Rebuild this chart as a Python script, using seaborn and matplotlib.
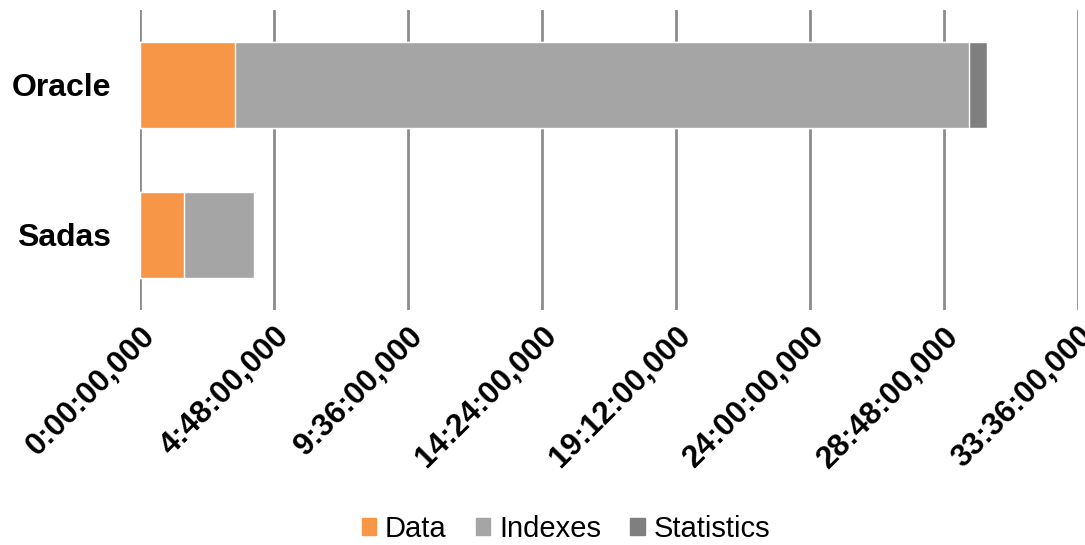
import pandas as pd
import seaborn as sns
import numpy as np
import matplotlib.pyplot as plt
from matplotlib.ticker import FuncFormatter, MultipleLocator
from matplotlib.patches import Patch

# load durations, in hours
systems = ["Oracle", "Sadas"]
data_h = [3.39, 1.57]
indexes_h = [26.29, 2.50]
statistics_h = [0.66, 0.0]

colors = {"Data": "#F79646", "Indexes": "#A5A5A5", "Statistics": "#7F7F7F"}

df = pd.DataFrame({"system": systems, "Data": data_h,
                   "Indexes": indexes_h, "Statistics": statistics_h})
# cumulative sums so the bars can be stacked by overdrawing
df["to_indexes"] = df["Data"] + df["Indexes"]
df["to_stats"] = df["to_indexes"] + df["Statistics"]

sns.set_style("white")
plt.rcParams["font.family"] = ["Liberation Sans", "DejaVu Sans"]
plt.rcParams["text.color"] = "black"

fig = plt.figure(figsize=(10.85, 5.45), dpi=100)
ax = fig.add_axes([140 / 1085, 1 - 310 / 545, 938 / 1085, 300 / 545])

sns.barplot(data=df, x="to_stats", y="system", color=colors["Statistics"],
            width=0.57, saturation=1, ax=ax, zorder=3)
sns.barplot(data=df, x="to_indexes", y="system", color=colors["Indexes"],
            width=0.57, saturation=1, ax=ax, zorder=3)
sns.barplot(data=df, x="Data", y="system", color=colors["Data"],
            width=0.57, saturation=1, ax=ax, zorder=3)

def fmt(x, pos):
    total_min = int(round(x * 60))
    return f"{total_min // 60}:{total_min % 60:02d}:00,000"

ax.set_xlim(0, 33.6)
ax.xaxis.set_major_locator(MultipleLocator(4.8))
ax.xaxis.set_major_formatter(FuncFormatter(fmt))
ax.grid(axis="x", color="#8c8c8c", linewidth=2, zorder=0)
ax.grid(axis="y", visible=False)
for s in ax.spines.values():
    s.set_visible(False)

ax.set_xlabel("")
ax.set_ylabel("")
ax.tick_params(axis="both", length=0, labelcolor="black")
ax.tick_params(axis="y", pad=21)
ax.tick_params(axis="x", pad=8)
plt.setp(ax.get_yticklabels(), fontsize=23, fontweight="bold")
plt.setp(ax.get_xticklabels(), fontsize=22.5, fontweight="bold",
         rotation=45, ha="right", rotation_mode="anchor")

handles = [Patch(color=colors[k], label=k) for k in ["Data", "Indexes", "Statistics"]]
fig.legend(handles=handles, loc="center", bbox_to_anchor=(566 / 1085, 1 - 529 / 545),
           ncol=3, frameon=False, fontsize=21, handlelength=0.5, handleheight=0.5,
           handletextpad=0.3, columnspacing=1.0, borderpad=0)

fig.savefig("out.png", dpi=100)
